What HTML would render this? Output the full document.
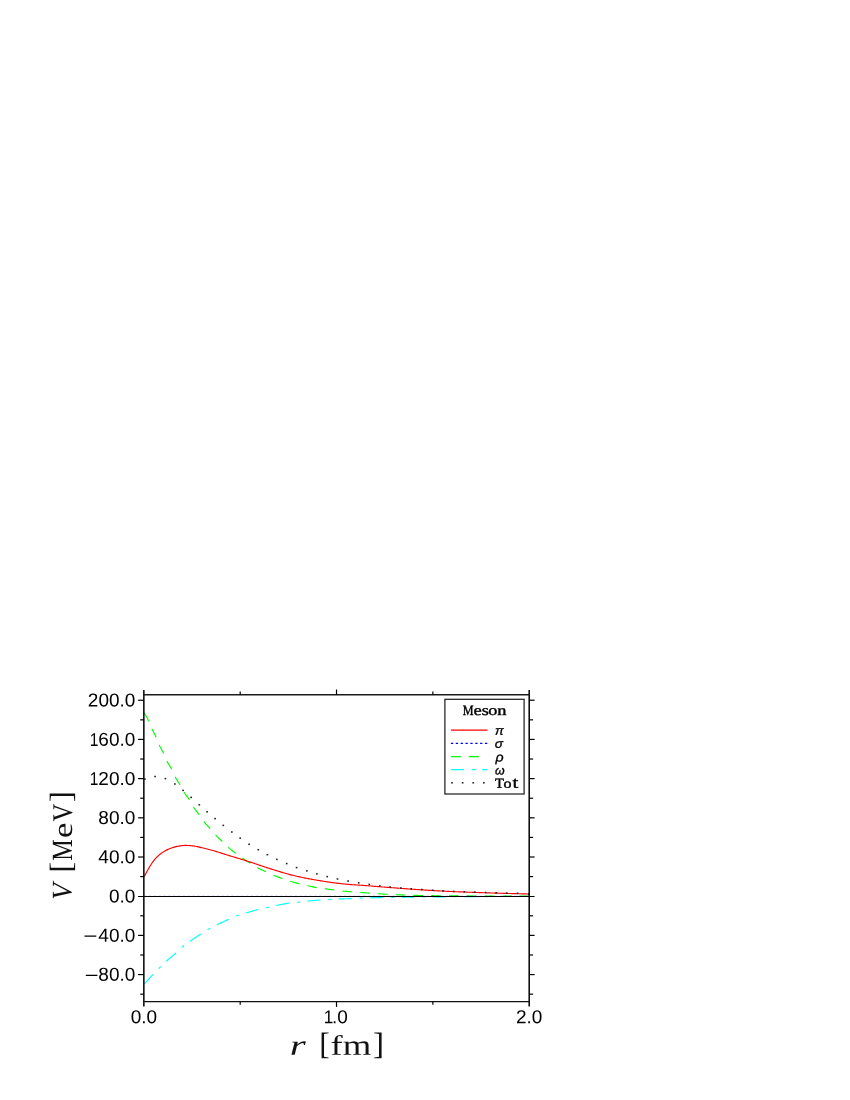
<!DOCTYPE html>
<html>
<head>
<meta charset="utf-8">
<title>Meson potentials</title>
<style>
html, body { margin: 0; padding: 0; background: #ffffff; }
body { width: 850px; height: 1100px; overflow: hidden; font-family: "Liberation Sans", sans-serif; }
svg { display: block; will-change: transform; }
</style>
</head>
<body>
<svg width="850" height="1100" viewBox="0 0 850 1100">
<rect x="0" y="0" width="850" height="1100" fill="#ffffff"/>
<path d="M144.20,984.00 L145.16,982.94 L146.13,981.89 L147.09,980.84 L148.06,979.79 L149.02,978.75 L149.99,977.72 L150.95,976.69 L151.92,975.66 L152.88,974.64 L153.85,973.63 L154.81,972.61 L155.78,971.60 L156.74,970.60 L157.71,969.61 L158.67,968.63 L159.64,967.66 L160.60,966.69 L161.57,965.73 L162.53,964.78 L163.50,963.83 L164.46,962.90 L165.43,961.99 L166.39,961.10 L167.36,960.23 L168.32,959.39 L169.29,958.57 L170.25,957.76 L171.22,956.97 L172.18,956.17 L173.15,955.37 L174.11,954.55 L175.08,953.72 L176.04,952.86 L177.01,951.96 L177.97,951.02 L178.94,950.07 L179.90,949.12 L180.87,948.21 L181.83,947.36 L182.80,946.56 L183.76,945.80 L184.73,945.05 L185.69,944.33 L186.66,943.63 L187.62,942.94 L188.59,942.26 L189.55,941.59 L190.52,940.91 L191.48,940.23 L192.45,939.56 L193.41,938.89 L194.38,938.23 L195.34,937.58 L196.31,936.93 L197.27,936.29 L198.24,935.65 L199.20,935.02 L200.16,934.40 L201.13,933.77 L202.09,933.15 L203.06,932.54 L204.02,931.93 L204.99,931.32 L205.95,930.73 L206.92,930.14 L207.88,929.58 L208.85,929.03 L209.81,928.50 L210.78,927.98 L211.74,927.47 L212.71,926.97 L213.67,926.47 L214.64,925.98 L215.60,925.50 L216.57,925.01 L217.53,924.53 L218.50,924.06 L219.46,923.58 L220.43,923.11 L221.39,922.64 L222.36,922.18 L223.32,921.72 L224.29,921.27 L225.25,920.81 L226.22,920.37 L227.18,919.92 L228.15,919.48 L229.11,919.05 L230.08,918.61 L231.04,918.17 L232.01,917.74 L232.97,917.31 L233.94,916.89 L234.90,916.49 L235.87,916.11 L236.83,915.75 L237.80,915.42 L238.76,915.10 L239.73,914.79 L240.69,914.50 L241.66,914.21 L242.62,913.93 L243.59,913.65 L244.55,913.38 L245.52,913.10 L246.48,912.82 L247.45,912.54 L248.41,912.25 L249.38,911.97 L250.34,911.68 L251.31,911.39 L252.27,911.11 L253.24,910.83 L254.20,910.55 L255.16,910.28 L256.13,910.01 L257.09,909.75 L258.06,909.50 L259.02,909.27 L259.99,909.04 L260.95,908.83 L261.92,908.62 L262.88,908.42 L263.85,908.23 L264.81,908.04 L265.78,907.84 L266.74,907.63 L267.71,907.42 L268.67,907.20 L269.64,906.98 L270.60,906.75 L271.57,906.52 L272.53,906.29 L273.50,906.07 L274.46,905.85 L275.43,905.63 L276.39,905.43 L277.36,905.23 L278.32,905.04 L279.29,904.85 L280.25,904.66 L281.22,904.47 L282.18,904.28 L283.15,904.10 L284.11,903.92 L285.08,903.75 L286.04,903.59 L287.01,903.44 L287.97,903.29 L288.94,903.16 L289.90,903.04 L290.87,902.93 L291.83,902.83 L292.80,902.74 L293.76,902.67 L294.73,902.59 L295.69,902.51 L296.66,902.43 L297.62,902.34 L298.59,902.24 L299.55,902.13 L300.52,902.01 L301.48,901.89 L302.45,901.76 L303.41,901.63 L304.38,901.51 L305.34,901.38 L306.31,901.26 L307.27,901.15 L308.24,901.04 L309.20,900.94 L310.16,900.84 L311.13,900.75 L312.09,900.66 L313.06,900.58 L314.02,900.49 L314.99,900.41 L315.95,900.33 L316.92,900.25 L317.88,900.17 L318.85,900.09 L319.81,900.02 L320.78,899.94 L321.74,899.87 L322.71,899.79 L323.67,899.71 L324.64,899.64 L325.60,899.57 L326.57,899.50 L327.53,899.43 L328.50,899.37 L329.46,899.32 L330.43,899.27 L331.39,899.23 L332.36,899.18 L333.32,899.15 L334.29,899.11 L335.25,899.07 L336.22,899.04 L337.18,899.01 L338.15,898.98 L339.11,898.94 L340.08,898.91 L341.04,898.88 L342.01,898.85 L342.97,898.82 L343.94,898.79 L344.90,898.76 L345.87,898.73 L346.83,898.71 L347.80,898.68 L348.76,898.65 L349.73,898.62 L350.69,898.59 L351.66,898.56 L352.62,898.52 L353.59,898.48 L354.55,898.43 L355.52,898.37 L356.48,898.31 L357.45,898.25 L358.41,898.19 L359.38,898.13 L360.34,898.08 L361.31,898.03 L362.27,898.00 L363.24,897.97 L364.20,897.94 L365.16,897.91 L366.13,897.89 L367.09,897.86 L368.06,897.84 L369.02,897.81 L369.99,897.79 L370.95,897.77 L371.92,897.74 L372.88,897.72 L373.85,897.70 L374.81,897.68 L375.78,897.66 L376.74,897.64 L377.71,897.63 L378.67,897.61 L379.64,897.59 L380.60,897.58 L381.57,897.56 L382.53,897.54 L383.50,897.53 L384.46,897.51 L385.43,897.50 L386.39,897.48 L387.36,897.47 L388.32,897.46 L389.29,897.44 L390.25,897.43 L391.22,897.42 L392.18,897.40 L393.15,897.39 L394.11,897.38 L395.08,897.36 L396.04,897.35 L397.01,897.34 L397.97,897.33 L398.94,897.31 L399.90,897.30 L400.87,897.29 L401.83,897.28 L402.80,897.26 L403.76,897.25 L404.73,897.24 L405.69,897.23 L406.66,897.22 L407.62,897.20 L408.59,897.19 L409.55,897.18 L410.52,897.17 L411.48,897.16 L412.45,897.15 L413.41,897.13 L414.38,897.12 L415.34,897.11 L416.31,897.10 L417.27,897.09 L418.24,897.08 L419.20,897.07 L420.16,897.06 L421.13,897.05 L422.09,897.04 L423.06,897.03 L424.02,897.02 L424.99,897.01 L425.95,897.00 L426.92,896.99 L427.88,896.98 L428.85,896.97 L429.81,896.96 L430.78,896.96 L431.74,896.95 L432.71,896.94 L433.67,896.93 L434.64,896.92 L435.60,896.91 L436.57,896.90 L437.53,896.90 L438.50,896.89 L439.46,896.88 L440.43,896.87 L441.39,896.86 L442.36,896.86 L443.32,896.85 L444.29,896.84 L445.25,896.83 L446.22,896.83 L447.18,896.82 L448.15,896.81 L449.11,896.81 L450.08,896.80 L451.04,896.79 L452.01,896.79 L452.97,896.78 L453.94,896.77 L454.90,896.77 L455.87,896.76 L456.83,896.75 L457.80,896.75 L458.76,896.74 L459.73,896.73 L460.69,896.73 L461.66,896.72 L462.62,896.71 L463.59,896.71 L464.55,896.70 L465.52,896.70 L466.48,896.69 L467.45,896.68 L468.41,896.68 L469.38,896.67 L470.34,896.66 L471.31,896.66 L472.27,896.65 L473.24,896.65 L474.20,896.64 L475.16,896.63 L476.13,896.63 L477.09,896.62 L478.06,896.62 L479.02,896.61 L479.99,896.61 L480.95,896.60 L481.92,896.59 L482.88,896.59 L483.85,896.58 L484.81,896.58 L485.78,896.57 L486.74,896.57 L487.71,896.56 L488.67,896.56 L489.64,896.55 L490.60,896.55 L491.57,896.54 L492.53,896.54 L493.50,896.53 L494.46,896.53 L495.43,896.52 L496.39,896.52 L497.36,896.51 L498.32,896.51 L499.29,896.50 L500.25,896.50 L501.22,896.49 L502.18,896.49 L503.15,896.49 L504.11,896.48 L505.08,896.48 L506.04,896.47 L507.01,896.47 L507.97,896.47 L508.94,896.46 L509.90,896.46 L510.87,896.45 L511.83,896.45 L512.80,896.45 L513.76,896.44 L514.73,896.44 L515.69,896.44 L516.66,896.43 L517.62,896.43 L518.59,896.43 L519.55,896.42 L520.52,896.42 L521.48,896.42 L522.45,896.42 L523.41,896.41 L524.38,896.41 L525.34,896.41 L526.31,896.41 L527.27,896.40 L528.24,896.40 L529.20,896.40" fill="none" stroke="#00ffff" stroke-width="1.15" stroke-dasharray="13.2 7.9 3 7.3"/>
<path d="M144.20,712.70 L145.16,714.24 L146.13,715.93 L147.09,717.74 L148.06,719.66 L149.02,721.69 L149.99,723.98 L150.95,726.41 L151.92,728.72 L152.88,730.76 L153.85,732.64 L154.81,734.51 L155.78,736.48 L156.74,738.70 L157.71,741.22 L158.67,743.73 L159.64,745.92 L160.60,747.82 L161.57,749.58 L162.53,751.32 L163.50,753.18 L164.46,755.30 L165.43,757.61 L166.39,759.89 L167.36,761.90 L168.32,763.63 L169.29,765.21 L170.25,766.77 L171.22,768.41 L172.18,770.28 L173.15,772.44 L174.11,774.69 L175.08,776.77 L176.04,778.53 L177.01,780.10 L177.97,781.57 L178.94,783.04 L179.90,784.59 L180.87,786.31 L181.83,788.17 L182.80,790.03 L183.76,791.74 L184.73,793.23 L185.69,794.60 L186.66,795.90 L187.62,797.20 L188.59,798.56 L189.55,800.04 L190.52,801.73 L191.48,803.55 L192.45,805.35 L193.41,807.00 L194.38,808.44 L195.34,809.74 L196.31,810.97 L197.27,812.16 L198.24,813.38 L199.20,814.66 L200.16,816.05 L201.13,817.51 L202.09,818.98 L203.06,820.39 L204.02,821.69 L204.99,822.89 L205.95,824.04 L206.92,825.14 L207.88,826.21 L208.85,827.28 L209.81,828.36 L210.78,829.46 L211.74,830.58 L212.71,831.69 L213.67,832.79 L214.64,833.87 L215.60,834.91 L216.57,835.92 L217.53,836.91 L218.50,837.87 L219.46,838.82 L220.43,839.77 L221.39,840.71 L222.36,841.66 L223.32,842.61 L224.29,843.57 L225.25,844.53 L226.22,845.47 L227.18,846.38 L228.15,847.25 L229.11,848.09 L230.08,848.89 L231.04,849.68 L232.01,850.45 L232.97,851.20 L233.94,851.94 L234.90,852.67 L235.87,853.40 L236.83,854.12 L237.80,854.84 L238.76,855.54 L239.73,856.24 L240.69,856.92 L241.66,857.59 L242.62,858.25 L243.59,858.90 L244.55,859.55 L245.52,860.20 L246.48,860.85 L247.45,861.48 L248.41,862.12 L249.38,862.74 L250.34,863.36 L251.31,863.97 L252.27,864.57 L253.24,865.16 L254.20,865.74 L255.16,866.30 L256.13,866.86 L257.09,867.40 L258.06,867.92 L259.02,868.43 L259.99,868.92 L260.95,869.40 L261.92,869.88 L262.88,870.34 L263.85,870.81 L264.81,871.27 L265.78,871.73 L266.74,872.20 L267.71,872.66 L268.67,873.13 L269.64,873.58 L270.60,874.02 L271.57,874.46 L272.53,874.87 L273.50,875.27 L274.46,875.66 L275.43,876.04 L276.39,876.41 L277.36,876.77 L278.32,877.13 L279.29,877.49 L280.25,877.84 L281.22,878.19 L282.18,878.54 L283.15,878.89 L284.11,879.25 L285.08,879.60 L286.04,879.94 L287.01,880.28 L287.97,880.61 L288.94,880.92 L289.90,881.22 L290.87,881.51 L291.83,881.79 L292.80,882.07 L293.76,882.33 L294.73,882.59 L295.69,882.85 L296.66,883.09 L297.62,883.34 L298.59,883.57 L299.55,883.80 L300.52,884.02 L301.48,884.23 L302.45,884.43 L303.41,884.64 L304.38,884.84 L305.34,885.05 L306.31,885.26 L307.27,885.48 L308.24,885.71 L309.20,885.95 L310.16,886.20 L311.13,886.44 L312.09,886.68 L313.06,886.92 L314.02,887.14 L314.99,887.34 L315.95,887.52 L316.92,887.68 L317.88,887.83 L318.85,887.95 L319.81,888.08 L320.78,888.19 L321.74,888.31 L322.71,888.42 L323.67,888.54 L324.64,888.67 L325.60,888.81 L326.57,888.94 L327.53,889.08 L328.50,889.22 L329.46,889.36 L330.43,889.50 L331.39,889.64 L332.36,889.77 L333.32,889.91 L334.29,890.04 L335.25,890.17 L336.22,890.30 L337.18,890.44 L338.15,890.57 L339.11,890.69 L340.08,890.81 L341.04,890.92 L342.01,891.02 L342.97,891.11 L343.94,891.20 L344.90,891.28 L345.87,891.36 L346.83,891.44 L347.80,891.51 L348.76,891.58 L349.73,891.66 L350.69,891.73 L351.66,891.80 L352.62,891.88 L353.59,891.96 L354.55,892.03 L355.52,892.11 L356.48,892.18 L357.45,892.25 L358.41,892.33 L359.38,892.40 L360.34,892.47 L361.31,892.54 L362.27,892.61 L363.24,892.68 L364.20,892.74 L365.16,892.81 L366.13,892.88 L367.09,892.95 L368.06,893.01 L369.02,893.08 L369.99,893.15 L370.95,893.22 L371.92,893.29 L372.88,893.36 L373.85,893.43 L374.81,893.50 L375.78,893.57 L376.74,893.64 L377.71,893.71 L378.67,893.78 L379.64,893.85 L380.60,893.91 L381.57,893.98 L382.53,894.04 L383.50,894.10 L384.46,894.15 L385.43,894.20 L386.39,894.25 L387.36,894.30 L388.32,894.34 L389.29,894.39 L390.25,894.43 L391.22,894.47 L392.18,894.51 L393.15,894.55 L394.11,894.59 L395.08,894.63 L396.04,894.67 L397.01,894.70 L397.97,894.74 L398.94,894.77 L399.90,894.81 L400.87,894.84 L401.83,894.88 L402.80,894.91 L403.76,894.95 L404.73,894.99 L405.69,895.02 L406.66,895.06 L407.62,895.10 L408.59,895.14 L409.55,895.17 L410.52,895.21 L411.48,895.24 L412.45,895.28 L413.41,895.31 L414.38,895.34 L415.34,895.37 L416.31,895.40 L417.27,895.43 L418.24,895.45 L419.20,895.47 L420.16,895.49 L421.13,895.51 L422.09,895.52 L423.06,895.54 L424.02,895.55 L424.99,895.57 L425.95,895.58 L426.92,895.60 L427.88,895.61 L428.85,895.62 L429.81,895.64 L430.78,895.65 L431.74,895.66 L432.71,895.67 L433.67,895.68 L434.64,895.70 L435.60,895.71 L436.57,895.72 L437.53,895.73 L438.50,895.74 L439.46,895.75 L440.43,895.76 L441.39,895.77 L442.36,895.78 L443.32,895.79 L444.29,895.80 L445.25,895.80 L446.22,895.81 L447.18,895.82 L448.15,895.83 L449.11,895.83 L450.08,895.84 L451.04,895.85 L452.01,895.85 L452.97,895.86 L453.94,895.87 L454.90,895.87 L455.87,895.88 L456.83,895.88 L457.80,895.89 L458.76,895.89 L459.73,895.90 L460.69,895.90 L461.66,895.91 L462.62,895.91 L463.59,895.92 L464.55,895.92 L465.52,895.93 L466.48,895.93 L467.45,895.93 L468.41,895.94 L469.38,895.94 L470.34,895.95 L471.31,895.95 L472.27,895.96 L473.24,895.96 L474.20,895.96 L475.16,895.97 L476.13,895.97 L477.09,895.98 L478.06,895.98 L479.02,895.98 L479.99,895.99 L480.95,895.99 L481.92,896.00 L482.88,896.00 L483.85,896.00 L484.81,896.01 L485.78,896.01 L486.74,896.01 L487.71,896.02 L488.67,896.02 L489.64,896.02 L490.60,896.03 L491.57,896.03 L492.53,896.03 L493.50,896.04 L494.46,896.04 L495.43,896.04 L496.39,896.05 L497.36,896.05 L498.32,896.05 L499.29,896.06 L500.25,896.06 L501.22,896.06 L502.18,896.06 L503.15,896.07 L504.11,896.07 L505.08,896.07 L506.04,896.07 L507.01,896.07 L507.97,896.08 L508.94,896.08 L509.90,896.08 L510.87,896.08 L511.83,896.08 L512.80,896.09 L513.76,896.09 L514.73,896.09 L515.69,896.09 L516.66,896.09 L517.62,896.09 L518.59,896.09 L519.55,896.09 L520.52,896.10 L521.48,896.10 L522.45,896.10 L523.41,896.10 L524.38,896.10 L525.34,896.10 L526.31,896.10 L527.27,896.10 L528.24,896.10 L529.20,896.10" fill="none" stroke="#00ff00" stroke-width="1.15" stroke-dasharray="9.6 8.18"/>
<path d="M144.30,876.50 L145.26,874.62 L146.23,872.80 L147.19,871.03 L148.16,869.30 L149.12,867.62 L150.09,866.01 L151.05,864.50 L152.02,863.04 L152.98,861.66 L153.95,860.39 L154.91,859.23 L155.88,858.14 L156.84,857.14 L157.81,856.21 L158.77,855.34 L159.73,854.53 L160.70,853.77 L161.66,853.06 L162.63,852.39 L163.59,851.77 L164.56,851.18 L165.52,850.64 L166.49,850.12 L167.45,849.64 L168.42,849.20 L169.38,848.80 L170.35,848.43 L171.31,848.07 L172.28,847.73 L173.24,847.41 L174.20,847.10 L175.17,846.83 L176.13,846.61 L177.10,846.41 L178.06,846.23 L179.03,846.06 L179.99,845.90 L180.96,845.75 L181.92,845.63 L182.89,845.55 L183.85,845.48 L184.82,845.43 L185.78,845.40 L186.75,845.41 L187.71,845.45 L188.67,845.51 L189.64,845.57 L190.60,845.64 L191.57,845.74 L192.53,845.85 L193.50,845.98 L194.46,846.13 L195.43,846.30 L196.39,846.48 L197.36,846.68 L198.32,846.90 L199.29,847.13 L200.25,847.36 L201.22,847.58 L202.18,847.80 L203.14,848.02 L204.11,848.24 L205.07,848.47 L206.04,848.71 L207.00,848.95 L207.97,849.20 L208.93,849.46 L209.90,849.71 L210.86,849.98 L211.83,850.24 L212.79,850.51 L213.76,850.79 L214.72,851.07 L215.68,851.35 L216.65,851.63 L217.61,851.93 L218.58,852.23 L219.54,852.53 L220.51,852.84 L221.47,853.16 L222.44,853.47 L223.40,853.79 L224.37,854.10 L225.33,854.41 L226.30,854.72 L227.26,855.03 L228.23,855.32 L229.19,855.62 L230.15,855.91 L231.12,856.20 L232.08,856.49 L233.05,856.78 L234.01,857.06 L234.98,857.35 L235.94,857.64 L236.91,857.93 L237.87,858.22 L238.84,858.51 L239.80,858.81 L240.77,859.10 L241.73,859.39 L242.70,859.69 L243.66,859.98 L244.62,860.28 L245.59,860.58 L246.55,860.88 L247.52,861.18 L248.48,861.48 L249.45,861.79 L250.41,862.10 L251.38,862.42 L252.34,862.73 L253.31,863.05 L254.27,863.38 L255.24,863.71 L256.20,864.03 L257.17,864.36 L258.13,864.69 L259.09,865.02 L260.06,865.35 L261.02,865.68 L261.99,866.00 L262.95,866.32 L263.92,866.64 L264.88,866.96 L265.85,867.27 L266.81,867.59 L267.78,867.90 L268.74,868.22 L269.71,868.53 L270.67,868.84 L271.64,869.16 L272.60,869.46 L273.56,869.77 L274.53,870.07 L275.49,870.37 L276.46,870.67 L277.42,870.97 L278.39,871.26 L279.35,871.54 L280.32,871.83 L281.28,872.12 L282.25,872.40 L283.21,872.69 L284.18,872.97 L285.14,873.25 L286.11,873.52 L287.07,873.79 L288.03,874.06 L289.00,874.32 L289.96,874.58 L290.93,874.83 L291.89,875.07 L292.86,875.31 L293.82,875.55 L294.79,875.78 L295.75,876.00 L296.72,876.23 L297.68,876.45 L298.65,876.66 L299.61,876.87 L300.58,877.08 L301.54,877.29 L302.50,877.49 L303.47,877.69 L304.43,877.89 L305.40,878.08 L306.36,878.27 L307.33,878.46 L308.29,878.65 L309.26,878.83 L310.22,879.01 L311.19,879.19 L312.15,879.36 L313.12,879.53 L314.08,879.70 L315.05,879.87 L316.01,880.04 L316.97,880.20 L317.94,880.36 L318.90,880.52 L319.87,880.68 L320.83,880.84 L321.80,880.99 L322.76,881.15 L323.73,881.30 L324.69,881.46 L325.66,881.61 L326.62,881.76 L327.59,881.91 L328.55,882.05 L329.52,882.19 L330.48,882.33 L331.44,882.47 L332.41,882.60 L333.37,882.73 L334.34,882.85 L335.30,882.97 L336.27,883.09 L337.23,883.21 L338.20,883.32 L339.16,883.43 L340.13,883.54 L341.09,883.65 L342.06,883.75 L343.02,883.85 L343.98,883.95 L344.95,884.05 L345.91,884.14 L346.88,884.23 L347.84,884.32 L348.81,884.40 L349.77,884.48 L350.74,884.56 L351.70,884.63 L352.67,884.70 L353.63,884.77 L354.60,884.83 L355.56,884.90 L356.53,884.96 L357.49,885.03 L358.45,885.09 L359.42,885.16 L360.38,885.22 L361.35,885.29 L362.31,885.36 L363.28,885.43 L364.24,885.50 L365.21,885.57 L366.17,885.65 L367.14,885.72 L368.10,885.80 L369.07,885.87 L370.03,885.95 L371.00,886.03 L371.96,886.10 L372.92,886.18 L373.89,886.26 L374.85,886.34 L375.82,886.41 L376.78,886.49 L377.75,886.57 L378.71,886.65 L379.68,886.73 L380.64,886.80 L381.61,886.88 L382.57,886.96 L383.54,887.04 L384.50,887.11 L385.47,887.19 L386.43,887.26 L387.39,887.34 L388.36,887.41 L389.32,887.49 L390.29,887.56 L391.25,887.63 L392.22,887.71 L393.18,887.78 L394.15,887.86 L395.11,887.93 L396.08,888.01 L397.04,888.08 L398.01,888.15 L398.97,888.23 L399.94,888.30 L400.90,888.38 L401.86,888.45 L402.83,888.52 L403.79,888.59 L404.76,888.67 L405.72,888.74 L406.69,888.81 L407.65,888.88 L408.62,888.95 L409.58,889.02 L410.55,889.09 L411.51,889.16 L412.48,889.23 L413.44,889.29 L414.41,889.36 L415.37,889.42 L416.33,889.49 L417.30,889.55 L418.26,889.62 L419.23,889.68 L420.19,889.75 L421.16,889.81 L422.12,889.87 L423.09,889.94 L424.05,890.00 L425.02,890.06 L425.98,890.12 L426.95,890.18 L427.91,890.25 L428.88,890.31 L429.84,890.37 L430.80,890.43 L431.77,890.49 L432.73,890.54 L433.70,890.60 L434.66,890.66 L435.63,890.72 L436.59,890.77 L437.56,890.83 L438.52,890.88 L439.49,890.93 L440.45,890.98 L441.42,891.04 L442.38,891.08 L443.35,891.13 L444.31,891.18 L445.27,891.23 L446.24,891.27 L447.20,891.32 L448.17,891.36 L449.13,891.41 L450.10,891.45 L451.06,891.49 L452.03,891.54 L452.99,891.58 L453.96,891.62 L454.92,891.66 L455.89,891.70 L456.85,891.74 L457.82,891.78 L458.78,891.82 L459.74,891.86 L460.71,891.90 L461.67,891.94 L462.64,891.98 L463.60,892.01 L464.57,892.05 L465.53,892.09 L466.50,892.12 L467.46,892.16 L468.43,892.20 L469.39,892.23 L470.36,892.27 L471.32,892.30 L472.28,892.33 L473.25,892.37 L474.21,892.40 L475.18,892.44 L476.14,892.47 L477.11,892.50 L478.07,892.54 L479.04,892.57 L480.00,892.60 L480.97,892.63 L481.93,892.66 L482.90,892.70 L483.86,892.73 L484.83,892.76 L485.79,892.79 L486.75,892.82 L487.72,892.85 L488.68,892.88 L489.65,892.92 L490.61,892.95 L491.58,892.98 L492.54,893.01 L493.51,893.04 L494.47,893.07 L495.44,893.10 L496.40,893.13 L497.37,893.16 L498.33,893.19 L499.30,893.21 L500.26,893.24 L501.22,893.27 L502.19,893.30 L503.15,893.33 L504.12,893.36 L505.08,893.38 L506.05,893.41 L507.01,893.44 L507.98,893.47 L508.94,893.49 L509.91,893.52 L510.87,893.55 L511.84,893.57 L512.80,893.60 L513.77,893.62 L514.73,893.65 L515.69,893.68 L516.66,893.70 L517.62,893.73 L518.59,893.75 L519.55,893.77 L520.52,893.80 L521.48,893.82 L522.45,893.84 L523.41,893.87 L524.38,893.89 L525.34,893.91 L526.31,893.94 L527.27,893.96 L528.24,893.98 L529.20,894.00" fill="none" stroke="#ff0000" stroke-width="1.15"/>
<path d="M143.85,895.5 L529.2,895.5" fill="none" stroke="#0000ff" stroke-opacity="0.10" stroke-width="1" stroke-dasharray="2.3 2.57"/>
<rect x="144.05" y="778.35" width="1.7" height="1.5" fill="#222"/>
<rect x="154.25" y="775.75" width="1.7" height="1.5" fill="#222"/>
<rect x="164.55" y="777.85" width="1.7" height="1.5" fill="#222"/>
<rect x="174.05" y="783.25" width="1.7" height="1.5" fill="#222"/>
<rect x="182.25" y="789.65" width="1.7" height="1.5" fill="#222"/>
<rect x="190.35" y="796.65" width="1.7" height="1.5" fill="#222"/>
<rect x="198.45" y="804.05" width="1.7" height="1.5" fill="#222"/>
<rect x="206.25" y="811.05" width="1.7" height="1.5" fill="#222"/>
<rect x="214.25" y="817.85" width="1.7" height="1.5" fill="#222"/>
<rect x="222.45" y="824.65" width="1.7" height="1.5" fill="#222"/>
<rect x="230.95" y="831.25" width="1.7" height="1.5" fill="#222"/>
<rect x="239.35" y="837.35" width="1.7" height="1.5" fill="#222"/>
<rect x="248.25" y="843.55" width="1.7" height="1.5" fill="#222"/>
<rect x="257.45" y="848.95" width="1.7" height="1.5" fill="#222"/>
<rect x="266.55" y="853.95" width="1.7" height="1.5" fill="#222"/>
<rect x="275.95" y="858.65" width="1.7" height="1.5" fill="#222"/>
<rect x="285.85" y="862.85" width="1.7" height="1.5" fill="#222"/>
<rect x="295.75" y="866.85" width="1.7" height="1.5" fill="#222"/>
<rect x="305.95" y="870.15" width="1.7" height="1.5" fill="#222"/>
<rect x="316.05" y="873.15" width="1.7" height="1.5" fill="#222"/>
<rect x="326.35" y="875.85" width="1.7" height="1.5" fill="#222"/>
<rect x="336.65" y="878.25" width="1.7" height="1.5" fill="#222"/>
<rect x="347.25" y="880.25" width="1.7" height="1.5" fill="#222"/>
<rect x="357.85" y="882.05" width="1.7" height="1.5" fill="#222"/>
<rect x="368.45" y="883.65" width="1.7" height="1.5" fill="#222"/>
<rect x="378.95" y="885.15" width="1.7" height="1.5" fill="#222"/>
<rect x="389.25" y="886.25" width="1.7" height="1.5" fill="#222"/>
<rect x="400.05" y="887.25" width="1.7" height="1.5" fill="#222"/>
<rect x="410.35" y="888.05" width="1.7" height="1.5" fill="#222"/>
<rect x="420.95" y="888.75" width="1.7" height="1.5" fill="#222"/>
<rect x="431.85" y="889.45" width="1.7" height="1.5" fill="#222"/>
<rect x="442.15" y="890.15" width="1.7" height="1.5" fill="#222"/>
<rect x="452.75" y="890.65" width="1.7" height="1.5" fill="#222"/>
<rect x="463.35" y="891.05" width="1.7" height="1.5" fill="#222"/>
<rect x="473.95" y="891.35" width="1.7" height="1.5" fill="#222"/>
<rect x="484.75" y="891.75" width="1.7" height="1.5" fill="#222"/>
<rect x="495.35" y="892.05" width="1.7" height="1.5" fill="#222"/>
<rect x="505.95" y="892.35" width="1.7" height="1.5" fill="#222"/>
<rect x="516.65" y="892.55" width="1.7" height="1.5" fill="#222"/>
<rect x="527.85" y="893.05" width="1.7" height="1.5" fill="#222"/>
<g stroke="#000" fill="none">
<line x1="143.85" y1="690.0" x2="143.85" y2="1006.5" stroke-width="1.5"/>
<line x1="529.2" y1="690.0" x2="529.2" y2="1006.5" stroke-width="1.5"/>
<line x1="143.85" y1="694.8" x2="529.2" y2="694.8" stroke-width="1.45" stroke="#1c1c1c"/>
<line x1="143.85" y1="1001.6" x2="529.2" y2="1001.6" stroke-width="1.45" stroke="#111"/>
<line x1="138.04999999999998" y1="896.5" x2="534.6" y2="896.5" stroke-width="1.2"/>
</g>
<g stroke="#000" stroke-width="1.2" fill="none">
<line x1="140.25" y1="994.18" x2="143.85" y2="994.18"/>
<line x1="529.2" y1="994.18" x2="533.10" y2="994.18"/>
<line x1="138.05" y1="974.58" x2="143.85" y2="974.58"/>
<line x1="529.2" y1="974.58" x2="534.60" y2="974.58"/>
<line x1="140.25" y1="954.99" x2="143.85" y2="954.99"/>
<line x1="529.2" y1="954.99" x2="533.10" y2="954.99"/>
<line x1="138.05" y1="935.39" x2="143.85" y2="935.39"/>
<line x1="529.2" y1="935.39" x2="534.60" y2="935.39"/>
<line x1="140.25" y1="915.80" x2="143.85" y2="915.80"/>
<line x1="529.2" y1="915.80" x2="533.10" y2="915.80"/>
<line x1="140.25" y1="876.60" x2="143.85" y2="876.60"/>
<line x1="529.2" y1="876.60" x2="533.10" y2="876.60"/>
<line x1="138.05" y1="857.01" x2="143.85" y2="857.01"/>
<line x1="529.2" y1="857.01" x2="534.60" y2="857.01"/>
<line x1="140.25" y1="837.41" x2="143.85" y2="837.41"/>
<line x1="529.2" y1="837.41" x2="533.10" y2="837.41"/>
<line x1="138.05" y1="817.82" x2="143.85" y2="817.82"/>
<line x1="529.2" y1="817.82" x2="534.60" y2="817.82"/>
<line x1="140.25" y1="798.22" x2="143.85" y2="798.22"/>
<line x1="529.2" y1="798.22" x2="533.10" y2="798.22"/>
<line x1="138.05" y1="778.62" x2="143.85" y2="778.62"/>
<line x1="529.2" y1="778.62" x2="534.60" y2="778.62"/>
<line x1="140.25" y1="759.03" x2="143.85" y2="759.03"/>
<line x1="529.2" y1="759.03" x2="533.10" y2="759.03"/>
<line x1="138.05" y1="739.43" x2="143.85" y2="739.43"/>
<line x1="529.2" y1="739.43" x2="534.60" y2="739.43"/>
<line x1="140.25" y1="719.84" x2="143.85" y2="719.84"/>
<line x1="529.2" y1="719.84" x2="533.10" y2="719.84"/>
<line x1="138.05" y1="700.24" x2="143.85" y2="700.24"/>
<line x1="529.2" y1="700.24" x2="534.60" y2="700.24"/>
<line x1="240.19" y1="1001.6" x2="240.19" y2="1004.8000000000001"/>
<line x1="240.19" y1="691.5999999999999" x2="240.19" y2="694.8"/>
<line x1="336.52" y1="1001.6" x2="336.52" y2="1006.9"/>
<line x1="336.52" y1="689.5" x2="336.52" y2="694.8"/>
<line x1="432.86" y1="1001.6" x2="432.86" y2="1004.8000000000001"/>
<line x1="432.86" y1="691.5999999999999" x2="432.86" y2="694.8"/>
</g>
<text x="0" y="0" text-anchor="end" font-family="Liberation Sans, sans-serif" font-size="18.8" fill="#000" transform="translate(135.3 980.88) rotate(0.03) scale(1.01 1)">80.0</text>
<text x="0" y="0" text-anchor="end" font-family="Liberation Sans, sans-serif" font-size="18.8" fill="#000" transform="translate(135.3 941.69) rotate(0.03) scale(1.01 1)">40.0</text>
<text x="0" y="0" text-anchor="end" font-family="Liberation Sans, sans-serif" font-size="18.8" fill="#000" transform="translate(135.3 902.50) rotate(0.03) scale(1.01 1)">0.0</text>
<text x="0" y="0" text-anchor="end" font-family="Liberation Sans, sans-serif" font-size="18.8" fill="#000" transform="translate(135.3 863.31) rotate(0.03) scale(1.01 1)">40.0</text>
<text x="0" y="0" text-anchor="end" font-family="Liberation Sans, sans-serif" font-size="18.8" fill="#000" transform="translate(135.3 824.12) rotate(0.03) scale(1.01 1)">80.0</text>
<text transform="translate(89.72 784.92) rotate(0.03) scale(0.1554 0.1868)" font-family="Liberation Sans, sans-serif" font-size="100" font-style="normal" font-weight="normal" fill="#000">1</text>
<text x="0" y="0" text-anchor="end" font-family="Liberation Sans, sans-serif" font-size="18.8" fill="#000" transform="translate(135.3 784.92) rotate(0.03) scale(1.01 1)">20.0</text>
<text transform="translate(89.72 745.73) rotate(0.03) scale(0.1554 0.1868)" font-family="Liberation Sans, sans-serif" font-size="100" font-style="normal" font-weight="normal" fill="#000">1</text>
<text x="0" y="0" text-anchor="end" font-family="Liberation Sans, sans-serif" font-size="18.8" fill="#000" transform="translate(135.3 745.73) rotate(0.03) scale(1.01 1)">60.0</text>
<text x="0" y="0" text-anchor="end" font-family="Liberation Sans, sans-serif" font-size="18.8" fill="#000" transform="translate(135.3 706.54) rotate(0.03) scale(1.01 1)">200.0</text>
<path d="M84.5,936.1 H96.3 M85.8,975.4 H97.4" stroke="#000" stroke-width="1.25" fill="none"/>
<text x="0" y="0" text-anchor="middle" font-family="Liberation Sans, sans-serif" font-size="18.8" fill="#000" transform="translate(143.85 1023.3) rotate(0.03) scale(1.01 1)">0.0</text>
<text x="0" y="0" text-anchor="middle" font-family="Liberation Sans, sans-serif" font-size="18.8" fill="#000" transform="translate(529.20 1023.3) rotate(0.03) scale(1.01 1)">2.0</text>
<text transform="translate(323.69 1023.30) rotate(0.03) scale(0.1716 0.1868)" font-family="Liberation Sans, sans-serif" font-size="100" font-style="normal" font-weight="normal" fill="#000">1</text>
<text x="0" y="0" text-anchor="end" font-family="Liberation Sans, sans-serif" font-size="18.8" fill="#000" transform="translate(347.9 1023.3) rotate(0.03) scale(1.01 1)">.0</text>
<text transform="translate(289.74 1054.80) rotate(0.03) scale(0.4096 0.2844)" font-family="Liberation Serif, serif" font-size="100" font-style="italic" font-weight="normal" fill="#111">r</text>
<text transform="translate(319.27 1054.06) rotate(0.03) scale(0.3144 0.3093)" font-family="Liberation Serif, serif" font-size="100" font-style="normal" font-weight="normal" fill="#111">[</text>
<text transform="translate(330.48 1054.80) rotate(0.03) scale(0.3639 0.2812)" font-family="Liberation Serif, serif" font-size="100" font-style="normal" font-weight="normal" fill="#111">f</text>
<text transform="translate(342.63 1054.80) rotate(0.03) scale(0.3670 0.2844)" font-family="Liberation Serif, serif" font-size="100" font-style="normal" font-weight="normal" fill="#111">m</text>
<text transform="translate(373.00 1054.06) rotate(0.03) scale(0.3324 0.3093)" font-family="Liberation Serif, serif" font-size="100" font-style="normal" font-weight="normal" fill="#111">]</text>
<g transform="rotate(-90)">
<text transform="translate(-899.81 71.57) rotate(0.03) scale(0.2703 0.2851)" font-family="Liberation Serif, serif" font-size="100" font-style="italic" font-weight="normal" fill="#111">V</text>
<text transform="translate(-872.73 71.08) rotate(0.03) scale(0.3279 0.3081)" font-family="Liberation Serif, serif" font-size="100" font-style="normal" font-weight="normal" fill="#111">[</text>
<text transform="translate(-860.70 72.10) rotate(0.03) scale(0.2419 0.2932)" font-family="Liberation Serif, serif" font-size="100" font-style="normal" font-weight="normal" fill="#111">M</text>
<text transform="translate(-838.18 72.03) rotate(0.03) scale(0.3539 0.2807)" font-family="Liberation Serif, serif" font-size="100" font-style="normal" font-weight="normal" fill="#111">e</text>
<text transform="translate(-821.58 71.57) rotate(0.03) scale(0.2458 0.2851)" font-family="Liberation Serif, serif" font-size="100" font-style="normal" font-weight="normal" fill="#111">V</text>
<text transform="translate(-802.33 71.08) rotate(0.03) scale(0.3413 0.3081)" font-family="Liberation Serif, serif" font-size="100" font-style="normal" font-weight="normal" fill="#111">]</text>
</g>
<rect x="444.9" y="699.3" width="79.2" height="94.7" fill="#fff" stroke="#222" stroke-width="1.25"/>
<text transform="translate(462.75 714.90) rotate(0.03) scale(0.1215 0.1420)" font-family="Liberation Serif, serif" font-size="100" font-style="normal" font-weight="normal" fill="#000" stroke="#000" stroke-width="3.19">M</text>
<text transform="translate(473.47 714.91) rotate(0.03) scale(0.1864 0.1466)" font-family="Liberation Serif, serif" font-size="100" font-style="normal" font-weight="normal" fill="#000" stroke="#000" stroke-width="2.52">e</text>
<text transform="translate(481.65 714.91) rotate(0.03) scale(0.1827 0.1466)" font-family="Liberation Serif, serif" font-size="100" font-style="normal" font-weight="normal" fill="#000" stroke="#000" stroke-width="2.55">s</text>
<text transform="translate(488.31 714.91) rotate(0.03) scale(0.1817 0.1466)" font-family="Liberation Serif, serif" font-size="100" font-style="normal" font-weight="normal" fill="#000" stroke="#000" stroke-width="2.56">o</text>
<text transform="translate(497.18 714.90) rotate(0.03) scale(0.1840 0.1443)" font-family="Liberation Serif, serif" font-size="100" font-style="normal" font-weight="normal" fill="#000" stroke="#000" stroke-width="2.56">n</text>
<line x1="450.9" y1="730.1" x2="487.6" y2="730.1" stroke="#ff0000" stroke-width="1.15"/>
<line x1="450.9" y1="743.3" x2="487.6" y2="743.3" stroke="#0000ff" stroke-width="1.2" stroke-dasharray="2.3 2.57"/>
<path d="M450.9,756.6 H460.9 M468.9,756.6 H478.9" stroke="#00ff00" stroke-width="1.15" fill="none"/>
<line x1="450.9" y1="769.6" x2="487.6" y2="769.6" stroke="#00ffff" stroke-width="1.15" stroke-dasharray="13 8 3.6 6.6"/>
<rect x="451.20" y="782.05" width="1.7" height="1.5" fill="#222"/>
<rect x="461.80" y="782.05" width="1.7" height="1.5" fill="#222"/>
<rect x="472.40" y="782.05" width="1.7" height="1.5" fill="#222"/>
<rect x="483.00" y="782.05" width="1.7" height="1.5" fill="#222"/>
<text transform="translate(495.02 734.63) rotate(0.03) scale(0.1311 0.1254)" font-family="Liberation Sans, sans-serif" font-size="100" font-style="italic" font-weight="normal" fill="#000" stroke="#000" stroke-width="2.34">π</text>
<text transform="translate(494.75 747.73) rotate(0.03) scale(0.1364 0.1236)" font-family="Liberation Sans, sans-serif" font-size="100" font-style="italic" font-weight="normal" fill="#000" stroke="#000" stroke-width="2.31">σ</text>
<text transform="translate(495.44 761.43) rotate(0.03) scale(0.1412 0.1288)" font-family="Liberation Sans, sans-serif" font-size="100" font-style="italic" font-weight="normal" fill="#000" stroke="#000" stroke-width="2.22">ρ</text>
<text transform="translate(494.90 774.48) rotate(0.03) scale(0.1232 0.1222)" font-family="Liberation Sans, sans-serif" font-size="100" font-style="italic" font-weight="normal" fill="#000" stroke="#000" stroke-width="2.45">ω</text>
<text transform="translate(495.04 787.70) rotate(0.03) scale(0.1458 0.1374)" font-family="Liberation Serif, serif" font-size="100" font-style="normal" font-weight="normal" fill="#000" stroke="#000" stroke-width="2.97">T</text>
<text transform="translate(503.49 787.72) rotate(0.03) scale(0.1604 0.1341)" font-family="Liberation Serif, serif" font-size="100" font-style="normal" font-weight="normal" fill="#000" stroke="#000" stroke-width="2.85">o</text>
<text transform="translate(512.40 787.64) rotate(0.03) scale(0.2098 0.1624)" font-family="Liberation Serif, serif" font-size="100" font-style="normal" font-weight="normal" fill="#000" stroke="#000" stroke-width="2.26">t</text>
</svg>
</body>
</html>
